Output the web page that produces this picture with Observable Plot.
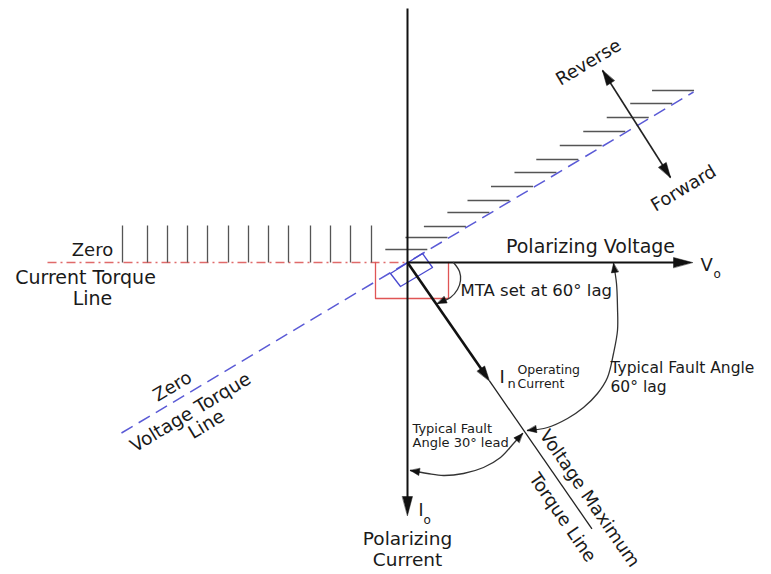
<!DOCTYPE html>
<html><head><meta charset="utf-8">
<script src="https://cdn.jsdelivr.net/npm/d3@7"></script>
<script src="https://cdn.jsdelivr.net/npm/@observablehq/plot@0.6"></script>
<style>body{margin:0;background:#fff} #chart svg{display:block}</style>
</head><body><div id="chart"></div>
<script>
// ---- diagram values (origin = phasor origin, Y up, units = px) ----
const xDomain = [-407, 364];
const yDomain = [-312, 262];

const axisTop = 254;            // top of vertical axis
const polarizingCurrentLen = 253; // Io phasor length (downwards)
const polarizingVoltageLen = 285; // Vo phasor length (rightwards)
const zeroCurrentLeft = -360;   // left end of zero current torque line

const zeroVoltageAngle = 30.8;  // deg, zero voltage torque line
const zeroVoltageHalf = 333;
const mtaAngle = -55.3;         // deg, operating current / max torque line
const operatingLen = 144;
const maxTorqueLen = 324;

const reverseForward = [[195, 192], [263, 85]];

const rightHatchY = [172, 159, 145, 131, 117, 103, 90, 76, 62, 50, 36, 25, 13];
const rightHatchLen = 42;
const leftHatchX = [-285, -260, -240, -220, -200, -179, -159, -139, -119, -97, -77, -57, -36];
const leftHatchTop = 37;

const redBox = [[-32, 0], [-32, -36], [41, -36], [41, 0]];
const blueBox = [[-17, -11], [15, 9], [25, -5], [-7, -24], [-17, -11]];

const mtaArc = [[46, 0], [52, -9], [53, -18], [50, -27], [43, -35], [30, -41]];
const lagArc = [[120, -168], [140, -165], [160, -156], [176, -145], [190, -131], [200, -115], [206, -91], [210, -68], [210, -45], [209, -21], [206, -1]];
const leadArc = [[115, -171], [106, -181], [93, -195], [76, -205], [56, -211], [36, -213], [20, -211], [3, -208]];

const labels = [
  {text: "Zero", x: -315, y: 7, size: 18, anchor: "middle"},
  {text: "Current Torque", x: -322, y: -21, size: 19, anchor: "middle"},
  {text: "Line", x: -315, y: -42, size: 19, anchor: "middle"},
  {text: "Polarizing Voltage", x: 183, y: 10, size: 19, anchor: "middle"},
  {text: "V", x: 293, y: -8, size: 18, anchor: "start"},
  {text: "o", x: 306, y: -15, size: 12, anchor: "start"},
  {text: "MTA set at 60° lag", x: 53, y: -33, size: 16.5, anchor: "start"},
  {text: "Typical Fault Angle", x: 203, y: -110, size: 15.5, anchor: "start"},
  {text: "60° lag", x: 203, y: -129, size: 15.5, anchor: "start"},
  {text: "I", x: 92, y: -120, size: 18, anchor: "start"},
  {text: "n", x: 100, y: -125, size: 13, anchor: "start"},
  {text: "Operating", x: 110, y: -111, size: 12.5, anchor: "start"},
  {text: "Current", x: 110, y: -125, size: 12.5, anchor: "start"},
  {text: "Typical Fault", x: 5, y: -170, size: 13, anchor: "start"},
  {text: "Angle 30° lead", x: 5, y: -184, size: 13, anchor: "start"},
  {text: "I", x: 11, y: -253, size: 17, anchor: "start"},
  {text: "o", x: 16, y: -261, size: 12, anchor: "start"},
  {text: "Polarizing", x: 0, y: -282, size: 18.5, anchor: "middle"},
  {text: "Current", x: 0, y: -303, size: 18.5, anchor: "middle"}
];
const rotatedLabels = [
  {text: "Reverse", x: 181, y: 200, size: 18, rotate: -31},
  {text: "Forward", x: 276, y: 74, size: 18, rotate: -31},
  {text: "Zero", x: -235, y: -124, size: 18, rotate: -31},
  {text: "Voltage Torque", x: -217, y: -150, size: 18.5, rotate: -31},
  {text: "Line", x: -201, y: -162, size: 18.5, rotate: -31},
  {text: "Voltage Maximum", x: 182, y: -236, size: 18, rotate: 55.5},
  {text: "Torque Line", x: 155, y: -255, size: 18, rotate: 55.5}
];

// ---- helpers ----
const rad = d => d * Math.PI / 180;
const pol = (a, r) => [r * Math.cos(rad(a)), r * Math.sin(rad(a))];
const headRot = (from, tip) => Math.atan2(-(tip[1] - from[1]), tip[0] - from[0]) * 180 / Math.PI + 90;
const head = (from, tip) => ({x: tip[0], y: tip[1], rotate: headRot(from, tip)});
const headShape = {draw(ctx, l, r) { ctx.moveTo(0, -l); ctx.lineTo(-r, 0); ctx.lineTo(r, 0); ctx.closePath(); }};

const O = [0, 0];
const opTip = pol(mtaAngle, operatingLen);
const mtEnd = pol(mtaAngle, maxTorqueLen);
const zvA = pol(zeroVoltageAngle + 180, zeroVoltageHalf);
const zvB = pol(zeroVoltageAngle, zeroVoltageHalf);
const tanZ = Math.tan(rad(zeroVoltageAngle));

const rightHatch = rightHatchY.map(y => ({x2: y / tanZ - 2, x1: y / tanZ - 2 - rightHatchLen, y}));
const leftHatch = leftHatchX.map(x => ({x, y1: 0, y2: leftHatchTop}));

const bigHeads = [
  head(O, [polarizingVoltageLen, 0]),
  head(O, [0, -polarizingCurrentLen])
];
const midHeads = [
  head(O, opTip),
  head(reverseForward[1], reverseForward[0]),
  head(reverseForward[0], reverseForward[1])
];
const smallHeads = [
  head(mtaArc[mtaArc.length - 2], mtaArc[mtaArc.length - 1]),
  head(lagArc[lagArc.length - 2], lagArc[lagArc.length - 1]),
  head(lagArc[1], lagArc[0]),
  head(leadArc[leadArc.length - 2], leadArc[leadArc.length - 1]),
  head(leadArc[1], leadArc[0])
];

const seg = (a, b) => ({x1: a[0], y1: a[1], x2: b[0], y2: b[1]});
const L = {x1: "x1", y1: "y1", x2: "x2", y2: "y2"};

const marks = [
  Plot.link([seg([zeroCurrentLeft, 0], O)], {...L, stroke: "#e06a6a", strokeWidth: 1.3, strokeDasharray: "9,4,2,4"}),
  Plot.link(leftHatch, {x1: "x", x2: "x", y1: "y1", y2: "y2", stroke: "#555", strokeWidth: 1.3}),
  Plot.link(rightHatch, {x1: "x1", x2: "x2", y1: "y", y2: "y", stroke: "#555", strokeWidth: 1.3}),
  Plot.line(redBox, {x: d => d[0], y: d => d[1], stroke: "#e05555", strokeWidth: 1.3}),
  Plot.link([seg(zvA, zvB)], {...L, stroke: "#5a5ad6", strokeWidth: 1.5, strokeDasharray: "13,7"}),
  Plot.line(blueBox, {x: d => d[0], y: d => d[1], stroke: "#4a4ad0", strokeWidth: 1.3}),
  Plot.link([seg([0, axisTop], [0, -polarizingCurrentLen + 10])], {...L, stroke: "#111", strokeWidth: 2}),
  Plot.link([seg(O, [polarizingVoltageLen - 10, 0])], {...L, stroke: "#111", strokeWidth: 2}),
  Plot.link([seg(opTip, mtEnd)], {...L, stroke: "#222", strokeWidth: 1.3}),
  Plot.link([seg(O, pol(mtaAngle, operatingLen - 8))], {...L, stroke: "#111", strokeWidth: 2.6}),
  Plot.link([seg(reverseForward[0], reverseForward[1])], {...L, stroke: "#222", strokeWidth: 1.6}),
  Plot.line(mtaArc, {x: d => d[0], y: d => d[1], curve: "catmull-rom", stroke: "#333", strokeWidth: 1.3}),
  Plot.line(lagArc, {x: d => d[0], y: d => d[1], curve: "catmull-rom", stroke: "#333", strokeWidth: 1.3}),
  Plot.line(leadArc, {x: d => d[0], y: d => d[1], curve: "catmull-rom", stroke: "#333", strokeWidth: 1.3}),
  Plot.vector(bigHeads, {x: "x", y: "y", rotate: "rotate", length: 19, r: 5, anchor: "end", shape: headShape, fill: "#111", stroke: "#111", strokeWidth: 0.5}),
  Plot.vector(midHeads, {x: "x", y: "y", rotate: "rotate", length: 15, r: 4.5, anchor: "end", shape: headShape, fill: "#111", stroke: "#111", strokeWidth: 0.5}),
  Plot.vector(smallHeads, {x: "x", y: "y", rotate: "rotate", length: 9, r: 3.5, anchor: "end", shape: headShape, fill: "#111", stroke: "#111", strokeWidth: 0.5})
];

for (const l of labels) {
  marks.push(Plot.text([l], {x: "x", y: "y", text: "text", fontSize: l.size, textAnchor: l.anchor, lineAnchor: "bottom", fill: "#1a1a1a"}));
}
for (const l of rotatedLabels) {
  marks.push(Plot.text([l], {x: "x", y: "y", text: "text", fontSize: l.size, textAnchor: "middle", lineAnchor: "middle", rotate: l.rotate, fill: "#1a1a1a"}));
}

const chart = Plot.plot({
  width: 771, height: 574, margin: 0,
  x: {domain: xDomain, axis: null},
  y: {domain: yDomain, axis: null},
  style: {fontFamily: "DejaVu Sans", background: "#fff", overflow: "visible"},
  marks
});
document.getElementById("chart").appendChild(chart);
</script></body></html>
